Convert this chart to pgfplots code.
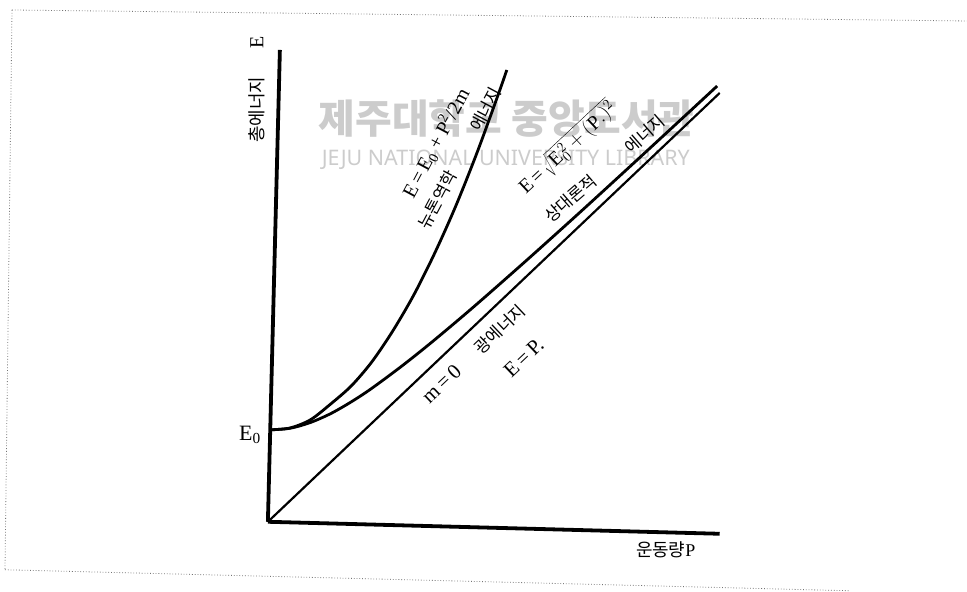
\documentclass[border=0pt]{standalone}
\usepackage{fontspec}
\setmainfont{Liberation Serif}
\newfontfamily\kr{Noto Sans CJK KR}
\newfontfamily\wm{Noto Sans}
\usepackage{pgfplots}
\pgfplotsset{compat=1.18}
\begin{document}
\begin{tikzpicture}
\begin{axis}[
  scale only axis, width=967bp, height=592bp,
  xmin=0, xmax=967, ymin=0, ymax=592,
  hide axis, clip=false]
% invisible frame to fix the bounding box
\addplot[draw=none] coordinates {(0,0) (967,592)};
% watermark
\node[text=black!20, font=\kr\fontsize{40}{42}\selectfont\bfseries] at (axis cs:507,473) {제주대학교 중앙도서관};
\node[text=black!20, font=\wm\fontsize{21.5}{23}\selectfont] at (axis cs:506,432) {JEJU NATIONAL UNIVERSITY LIBRARY};
% scan border
\addplot[black!55, dotted, line width=0.8bp] coordinates {(12,582) (967,571)};
\addplot[black!55, dotted, line width=0.8bp] coordinates {(12,582) (5,22)};
\addplot[black!55, dotted, line width=0.8bp] coordinates {(5,22) (850,1)};
% axes
\addplot[black, line width=3.8bp] coordinates {(268,70) (280,542)};
\addplot[black, line width=3.8bp] coordinates {(268,70) (720,58)};
% m = 0 line
\addplot[black, line width=2.2bp] coordinates {(268,70) (720,499)};
% Newtonian curve
\addplot[black, line width=2.8bp, smooth] coordinates {
 (270.3,162) (290,163.8) (310.5,172) (331,188) (351.5,206) (372,230)
 (393,261) (414,297) (435,339) (456,386) (477.5,440) (499,499) (507,522)};
% relativistic curve
\addplot[black, line width=2.8bp, smooth] coordinates {
 (270.3,162) (290.4,163.6) (310.5,169.3) (330.8,178.2) (351.1,189.8)
 (371.5,203.2) (402,225.8) (432.7,250.3) (473.6,284.8) (524.8,329.8)
 (576,375.8) (627.2,422.6) (678.4,469.8) (717.4,505.9)};
% labels
\node[rotate=90, font=\kr\fontsize{18}{20}\selectfont] at (axis cs:257,482) {총에너지};
\node[rotate=90, font=\fontsize{20}{22}\selectfont] at (axis cs:257,550) {E};
\node[font=\fontsize{22}{24}\selectfont] at (axis cs:250,157) {E\textsubscript{0}};
\node[font=\kr\fontsize{18}{20}\selectfont] at (axis cs:666,42) {운동량\textrm{P}};
% Newton label
\node[rotate=62, font=\fontsize{20}{22}\selectfont] at (axis cs:436,449) {E\,=\,E\textsubscript{0} + P\textsuperscript{2}/2m};
\node[rotate=62, font=\kr\fontsize{17}{19}\selectfont] at (axis cs:460,434) {뉴톤역학\hspace{48bp}에너지};
% relativistic label
\node[rotate=43, font=\fontsize{20}{22}\selectfont] at (axis cs:568,444) {E\,=\,$\sqrt{\mathrm{E}_0^{\,2}+(\mathrm{P}.)^2}$};
\node[rotate=41, font=\kr\fontsize{17}{19}\selectfont] at (axis cs:605,423) {상대론적\hspace{44bp}에너지};
% m = 0 label
\node[rotate=43.5, font=\fontsize{21}{23}\selectfont] at (axis cs:474,238) {m\,=\,0\hspace{26bp}{\kr\fontsize{17}{19}\selectfont 광에너지}};
\node[rotate=43.5, font=\fontsize{21}{23}\selectfont] at (axis cs:524,234) {E\,=\,P.};
\end{axis}
\end{tikzpicture}
\end{document}
